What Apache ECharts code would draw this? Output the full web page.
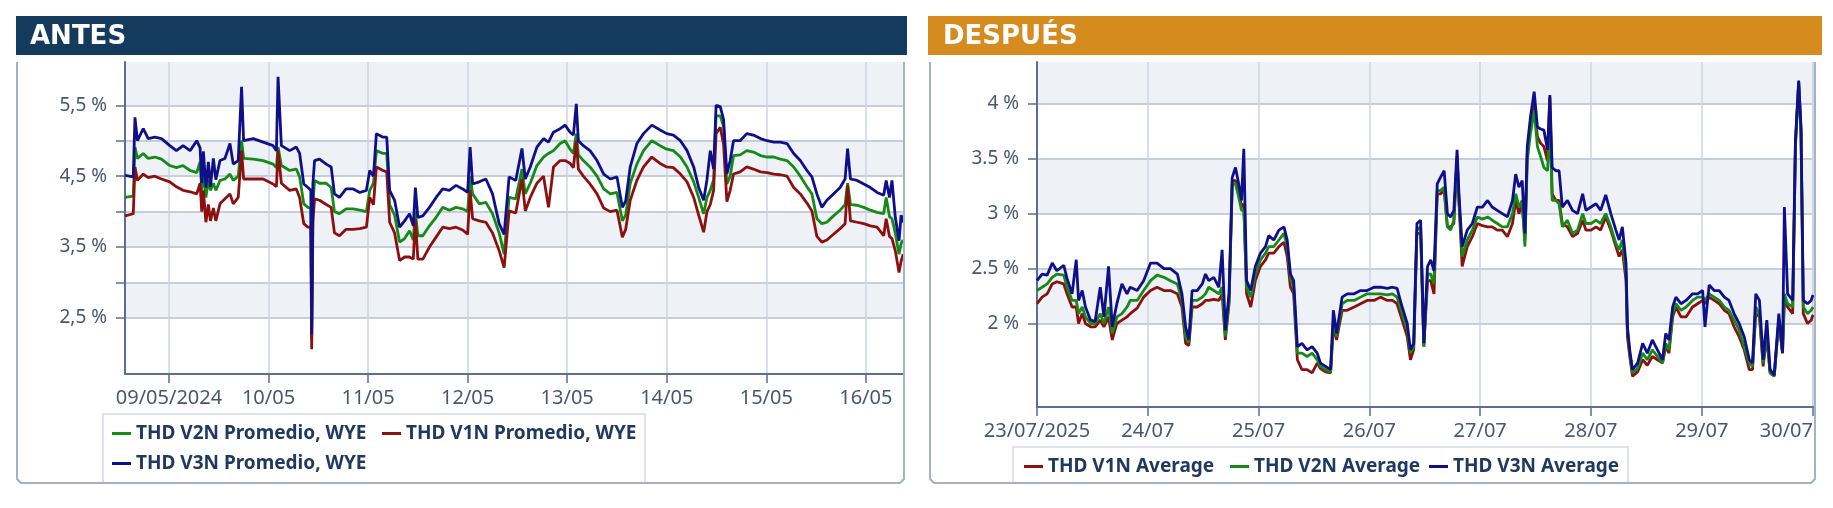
<!DOCTYPE html>
<html>
<head>
<meta charset="utf-8">
<script src="https://cdn.jsdelivr.net/npm/echarts@6/dist/echarts.min.js"></script>
<style>
html, body { margin: 0; padding: 0; background: #fff; }
#chart { width: 1833px; height: 508px; }
</style>
</head>
<body>
<div id="chart"></div>
<script>
// ANTES: horas desde 09/05/2024 00:00
var antesHours = [
  -10.6, -8.6, -8.2, -7.6, -6.2, -5.0, -3.4, -1.8, 0.2, 1.8,
  3.4, 5.1, 6.7, 7.5, 7.9, 8.3, 8.9, 9.5, 10.0, 10.7,
  11.3, 12.3, 13.5, 14.7, 15.5, 16.7, 17.5, 18.0, 20.3, 22.7,
  25.1, 25.9, 26.3, 27.1, 29.1, 30.7, 31.5, 32.5, 33.5, 34.2,
  34.4, 34.7, 35.1, 36.3, 37.9, 39.1, 39.9, 41.1, 42.7, 44.4,
  46.0, 47.6, 48.4, 49.3, 50.0, 51.6, 52.5, 53.2, 54.4, 55.6,
  56.8, 58.0, 58.9, 59.4, 60.0, 61.2, 62.8, 64.4, 66.0, 67.6,
  69.2, 70.8, 72.0, 72.6, 73.2, 74.8, 76.4, 78.0, 79.6, 80.8,
  82.0, 83.6, 85.1, 85.9, 87.1, 88.7, 90.3, 91.5, 92.7, 94.3,
  95.5, 96.7, 97.5, 98.2, 98.7, 99.9, 101.5, 103.2, 104.8, 106.4,
  108.0, 109.3, 110.1, 111.2, 112.8, 114.4, 116.4, 118.4, 120.0, 121.6,
  123.3, 124.9, 126.5, 127.7, 128.9, 129.7, 130.5, 131.3, 131.9, 132.9,
  133.7, 134.5, 135.3, 136.1, 137.7, 139.3, 140.9, 142.6, 144.2, 145.8,
  147.4, 149.0, 150.6, 152.2, 153.8, 155.0, 156.2, 157.4, 158.6, 160.2,
  161.8, 163.0, 163.6, 164.3, 165.9, 167.5, 169.1, 170.7, 172.3, 172.9,
  173.7, 174.3, 175.1, 176.0, 176.5, 177.0
];
var antesV3N = [
  4.51, 4.49, 5.33, 5.00, 5.17, 5.03, 5.05, 5.03, 4.93, 4.86,
  4.93, 4.86, 5.00, 4.90, 4.40, 4.85, 4.34, 4.70, 4.35, 4.75,
  4.45, 4.72, 4.75, 4.96, 4.67, 4.72, 5.76, 5.00, 5.03, 4.98,
  4.93, 4.86, 5.90, 4.93, 4.86, 4.91, 4.82, 4.39, 4.34, 4.30,
  2.27, 4.40, 4.72, 4.74, 4.67, 4.63, 4.25, 4.20, 4.32, 4.32,
  4.27, 4.30, 4.58, 4.50, 5.10, 5.05, 5.05, 4.30, 4.16, 3.78,
  3.87, 3.97, 3.80, 4.34, 3.92, 3.94, 4.06, 4.20, 4.32, 4.30,
  4.37, 4.32, 4.27, 4.91, 4.39, 4.42, 4.46, 4.25, 3.83, 3.68,
  4.49, 4.44, 4.89, 4.46, 4.63, 4.91, 5.03, 4.98, 5.12, 5.17,
  5.22, 5.12, 5.08, 5.52, 5.00, 4.93, 4.86, 4.72, 4.53, 4.46,
  4.49, 4.06, 4.15, 4.63, 4.96, 5.10, 5.22, 5.15, 5.10, 5.08,
  5.00, 4.86, 4.63, 4.34, 4.16, 4.45, 4.86, 4.60, 5.50, 5.48,
  5.30, 4.53, 4.72, 5.00, 5.00, 5.10, 5.08, 5.03, 5.00, 4.98,
  4.98, 4.96, 4.82, 4.72, 4.58, 4.49, 4.25, 4.06, 4.16, 4.25,
  4.34, 4.46, 4.89, 4.46, 4.44, 4.39, 4.34, 4.27, 4.23, 4.44,
  4.20, 4.44, 3.92, 3.59, 3.95, 3.85
];
var antesV2N = [
  4.20, 4.22, 4.91, 4.75, 4.82, 4.75, 4.77, 4.74, 4.65, 4.62,
  4.65, 4.58, 4.55, 4.70, 4.30, 4.60, 4.20, 4.45, 4.30, 4.40,
  4.30, 4.44, 4.46, 4.53, 4.44, 4.50, 5.00, 4.75, 4.74, 4.72,
  4.67, 4.62, 4.91, 4.65, 4.58, 4.60, 4.49, 4.11, 4.06, 4.05,
  2.20, 4.10, 4.44, 4.40, 4.40, 4.34, 4.00, 3.97, 4.04, 4.04,
  4.02, 4.00, 4.30, 4.40, 4.86, 4.82, 4.82, 4.10, 3.95, 3.57,
  3.62, 3.73, 3.60, 4.00, 3.66, 3.66, 3.80, 3.92, 4.06, 4.02,
  4.06, 4.04, 4.00, 4.50, 4.25, 4.11, 4.13, 3.97, 3.70, 3.40,
  4.20, 4.18, 4.60, 4.25, 4.40, 4.65, 4.77, 4.82, 4.86, 4.96,
  5.00, 4.88, 4.82, 5.10, 4.80, 4.72, 4.63, 4.50, 4.32, 4.25,
  4.27, 3.87, 3.95, 4.40, 4.67, 4.86, 5.00, 4.93, 4.88, 4.86,
  4.77, 4.63, 4.42, 4.20, 3.97, 4.20, 4.30, 4.45, 5.35, 5.35,
  5.20, 4.39, 4.50, 4.79, 4.80, 4.86, 4.84, 4.79, 4.77, 4.77,
  4.74, 4.72, 4.63, 4.50, 4.35, 4.25, 3.90, 3.83, 3.85, 3.94,
  4.02, 4.10, 4.40, 4.10, 4.09, 4.06, 4.02, 3.99, 3.97, 4.20,
  3.93, 3.90, 3.70, 3.40, 3.55, 3.60
];
var antesV1N = [
  3.94, 3.97, 4.63, 4.44, 4.53, 4.48, 4.50, 4.46, 4.42, 4.35,
  4.30, 4.28, 4.25, 4.40, 4.00, 4.30, 3.85, 4.10, 3.87, 4.05,
  3.87, 4.11, 4.18, 4.25, 4.11, 4.20, 4.86, 4.46, 4.46, 4.46,
  4.39, 4.35, 4.86, 4.40, 4.30, 4.32, 4.20, 3.83, 3.78, 3.78,
  2.06, 3.85, 4.18, 4.16, 4.10, 4.06, 3.70, 3.66, 3.75, 3.75,
  3.76, 3.78, 4.20, 4.10, 4.63, 4.58, 4.56, 3.85, 3.70, 3.31,
  3.36, 3.36, 3.33, 3.90, 3.33, 3.33, 3.50, 3.64, 3.78, 3.76,
  3.78, 3.74, 3.68, 4.30, 3.90, 3.87, 3.85, 3.70, 3.45, 3.21,
  4.01, 3.98, 4.46, 4.01, 4.20, 4.40, 4.50, 4.06, 4.63, 4.72,
  4.72, 4.68, 4.62, 5.00, 4.60, 4.50, 4.39, 4.25, 4.05, 4.00,
  4.02, 3.64, 3.75, 4.16, 4.44, 4.63, 4.77, 4.68, 4.63, 4.62,
  4.53, 4.42, 4.20, 3.95, 3.71, 4.00, 4.10, 4.30, 5.10, 5.19,
  4.95, 4.14, 4.30, 4.53, 4.56, 4.63, 4.60, 4.56, 4.55, 4.53,
  4.52, 4.50, 4.34, 4.25, 4.12, 4.01, 3.65, 3.57, 3.60, 3.68,
  3.76, 3.83, 4.37, 3.87, 3.85, 3.83, 3.80, 3.78, 3.66, 3.90,
  3.65, 3.62, 3.45, 3.14, 3.30, 3.40
];
var antesDayLabels = ['09/05/2024', '10/05', '11/05', '12/05', '13/05', '14/05', '15/05', '16/05'];
var antesYTicks = [2.5, 3, 3.5, 4, 4.5, 5, 5.5];
var antesYLabels = [2.5, 3.5, 4.5, 5.5];
var antesBands = [[2.5, 3], [3.5, 4], [4.5, 5], [5.5, 6.11]];

// DESPUES: horas desde 23/07/2025 00:00
var despuesHours = [
  0, 1.1, 2.2, 3.3, 4.3, 5.8, 6.5, 7.6, 8.5, 9.0,
  9.8, 10.5, 11.6, 12.6, 13.7, 14.5, 15.5, 16.3, 17.3, 18.4,
  19.5, 20.2, 21.7, 23.1, 24.6, 26.0, 27.5, 28.9, 30.4, 31.4,
  32.2, 32.9, 33.6, 34.7, 35.8, 36.5, 37.2, 38.3, 39.4, 40.1,
  40.8, 41.6, 42.3, 43.0, 43.7, 44.3, 44.8, 45.4, 46.3, 47.3,
  48.4, 49.5, 50.2, 51.3, 52.4, 53.5, 54.2, 54.9, 55.6, 56.4,
  57.4, 58.5, 59.6, 60.7, 61.4, 62.5, 63.6, 64.2, 64.9, 66.1,
  67.2, 68.7, 70.1, 71.5, 73.0, 74.4, 75.9, 77.0, 78.0, 79.1,
  80.2, 80.9, 81.6, 82.3, 83.1, 83.8, 84.6, 85.3, 86.0, 86.7,
  87.4, 88.2, 88.9, 89.6, 90.3, 91.0, 91.4, 92.1, 93.2, 94.3,
  95.4, 96.5, 97.6, 98.6, 99.7, 100.8, 101.9, 103.0, 103.7, 104.4,
  105.1, 105.7, 106.2, 106.9, 107.7, 108.4, 109.1, 109.8, 110.6, 111.1,
  111.6, 112.4, 113.1, 113.8, 114.9, 116.0, 117.1, 118.2, 118.9, 120.0,
  121.1, 122.1, 123.2, 124.3, 125.4, 126.1, 126.8, 127.6, 127.9, 128.4,
  129.0, 130.1, 131.2, 132.2, 133.3, 134.4, 135.5, 136.2, 136.9, 137.7,
  138.4, 139.5, 140.6, 142.0, 143.1, 144.2, 144.7, 145.6, 146.7, 147.8,
  148.9, 149.9, 151.0, 152.1, 153.2, 154.3, 155.0, 155.7, 156.5, 157.3,
  158.1, 158.8, 159.7, 160.7, 161.5, 161.9, 162.6, 163.7, 164.3, 165.0,
  165.5, 166.0, 166.9, 167.7, 168.1
];
var despuesV3N = [
  2.39, 2.45, 2.44, 2.55, 2.48, 2.53, 2.41, 2.27, 2.58, 2.21,
  2.30, 2.15, 2.03, 2.02, 2.33, 2.06, 2.52, 1.97, 2.18, 2.36,
  2.27, 2.33, 2.30, 2.39, 2.55, 2.55, 2.50, 2.50, 2.45, 2.27,
  1.97, 1.85, 2.30, 2.30, 2.36, 2.45, 2.39, 2.42, 2.33, 2.67,
  1.94, 2.27, 3.33, 3.42, 3.27, 3.12, 3.59, 2.39, 2.30, 2.52,
  2.64, 2.70, 2.80, 2.76, 2.85, 2.88, 2.76, 2.45, 2.39, 1.79,
  1.82, 1.76, 1.79, 1.73, 1.64, 1.61, 1.58, 2.12, 1.91, 2.24,
  2.27, 2.27, 2.30, 2.30, 2.33, 2.33, 2.32, 2.33, 2.32, 2.15,
  2.00, 1.76, 1.82, 2.91, 2.94, 1.82, 2.52, 2.58, 2.48, 3.27,
  3.33, 3.39, 3.00, 2.97, 3.03, 3.58, 3.18, 2.70, 2.85, 2.91,
  3.06, 3.06, 3.12, 3.06, 3.03, 3.00, 2.97, 3.12, 3.36, 3.24,
  3.30, 2.82, 3.61, 3.88, 4.11, 3.79, 3.77, 3.76, 3.58, 4.08,
  3.42, 3.39, 3.39, 3.06, 3.12, 3.03, 3.00, 3.18, 3.03, 3.06,
  3.09, 3.03, 3.17, 3.00, 2.85, 2.76, 2.88, 2.55, 1.97, 1.76,
  1.58, 1.64, 1.82, 1.73, 1.85, 1.76, 1.67, 1.91, 1.85, 2.15,
  2.24, 2.18, 2.21, 2.27, 2.27, 2.30, 1.97, 2.35, 2.30, 2.30,
  2.24, 2.21, 2.09, 2.00, 1.88, 1.67, 1.64, 2.27, 2.21, 1.67,
  2.03, 1.58, 1.53, 2.09, 1.73, 3.06, 2.27, 2.21, 3.67, 4.21,
  3.79, 2.21, 2.18, 2.21, 2.26
];
var despuesV2N = [
  2.30, 2.33, 2.36, 2.42, 2.45, 2.44, 2.33, 2.21, 2.21, 2.09,
  2.15, 2.06, 2.00, 2.00, 2.09, 2.00, 2.15, 1.91, 2.06, 2.09,
  2.15, 2.21, 2.21, 2.30, 2.39, 2.44, 2.42, 2.39, 2.36, 2.21,
  1.88, 1.83, 2.21, 2.21, 2.24, 2.27, 2.33, 2.30, 2.27, 2.33,
  1.88, 2.21, 3.27, 3.27, 3.15, 3.03, 3.03, 2.33, 2.24, 2.45,
  2.58, 2.64, 2.70, 2.70, 2.76, 2.82, 2.70, 2.42, 2.33, 1.73,
  1.73, 1.70, 1.73, 1.67, 1.61, 1.58, 1.56, 2.03, 1.88, 2.18,
  2.21, 2.21, 2.24, 2.27, 2.27, 2.27, 2.26, 2.27, 2.24, 2.09,
  1.94, 1.73, 1.79, 2.85, 2.88, 1.79, 2.45, 2.45, 2.36, 3.21,
  3.21, 3.24, 2.88, 2.85, 2.94, 3.52, 3.12, 2.61, 2.76, 2.85,
  2.97, 2.95, 2.97, 2.94, 2.91, 2.88, 2.88, 3.00, 3.18, 3.06,
  3.12, 2.70, 3.48, 3.73, 3.94, 3.61, 3.52, 3.42, 3.39, 3.85,
  3.12, 3.12, 3.09, 2.88, 2.94, 2.82, 2.85, 3.00, 2.91, 2.91,
  2.94, 2.91, 3.00, 2.88, 2.73, 2.67, 2.76, 2.45, 1.94, 1.73,
  1.55, 1.59, 1.73, 1.67, 1.76, 1.70, 1.64, 1.82, 1.76, 2.09,
  2.18, 2.12, 2.15, 2.21, 2.24, 2.24, 2.21, 2.27, 2.24, 2.21,
  2.15, 2.12, 2.03, 1.94, 1.79, 1.64, 1.61, 2.15, 2.09, 1.64,
  1.91, 1.55, 1.52, 2.03, 1.73, 2.27, 2.18, 2.15, 3.61, 4.18,
  3.73, 2.15, 2.09, 2.12, 2.15
];
var despuesV1N = [
  2.18, 2.24, 2.27, 2.36, 2.38, 2.36, 2.27, 2.15, 2.15, 2.00,
  2.09, 2.00, 1.97, 1.97, 2.03, 1.97, 2.06, 1.85, 2.00, 2.03,
  2.06, 2.09, 2.14, 2.24, 2.30, 2.33, 2.30, 2.30, 2.27, 2.15,
  1.82, 1.80, 2.15, 2.15, 2.18, 2.21, 2.21, 2.22, 2.21, 2.27,
  1.85, 2.18, 3.30, 3.30, 3.21, 3.06, 3.09, 2.27, 2.15, 2.39,
  2.52, 2.58, 2.64, 2.64, 2.70, 2.74, 2.61, 2.33, 2.27, 1.67,
  1.58, 1.58, 1.55, 1.64, 1.59, 1.56, 1.55, 1.97, 1.85, 2.12,
  2.12, 2.15, 2.18, 2.21, 2.21, 2.24, 2.21, 2.21, 2.18, 2.03,
  1.88, 1.67, 1.76, 2.82, 2.82, 1.79, 2.39, 2.39, 2.27, 3.18,
  3.18, 3.21, 2.88, 2.88, 2.91, 3.52, 3.12, 2.52, 2.70, 2.79,
  2.91, 2.89, 2.88, 2.88, 2.85, 2.85, 2.79, 2.91, 3.12, 3.00,
  3.09, 2.76, 3.55, 3.79, 4.00, 3.70, 3.64, 3.61, 3.48, 4.06,
  3.18, 3.12, 3.12, 2.91, 2.88, 2.79, 2.82, 2.94, 2.85, 2.85,
  2.88, 2.85, 2.97, 2.85, 2.70, 2.61, 2.67, 2.39, 1.88, 1.70,
  1.52, 1.56, 1.67, 1.62, 1.70, 1.67, 1.64, 1.79, 1.73, 2.06,
  2.15, 2.06, 2.06, 2.15, 2.18, 2.21, 2.18, 2.24, 2.21, 2.18,
  2.12, 2.09, 1.97, 1.88, 1.76, 1.58, 1.58, 2.09, 2.06, 1.61,
  1.88, 1.55, 1.52, 2.03, 1.73, 2.21, 2.15, 2.09, 3.64, 4.20,
  3.76, 2.09, 2.00, 2.03, 2.08
];
var despuesDayLabels = ['23/07/2025', '24/07', '25/07', '26/07', '27/07', '28/07', '29/07', '30/07'];
var despuesYTicks = [2, 2.5, 3, 3.5, 4];
var despuesYLabels = [2, 2.5, 3, 3.5, 4];
var despuesBands = [[2, 2.5], [3, 3.5], [4, 4.38]];

var HOUR = 3600000, DAY = 86400000;
var antesBase = new Date(2024, 4, 9).getTime();
var despuesBase = new Date(2025, 6, 23).getTime();

var colV1 = '#8c1010', colV2 = '#168a16', colV3 = '#0f0f8c';
var axisCol = '#5b6e93';
var labelCol = '#4a5670';
var font = 'Noto Sans';

function pairs(base, hours, vals) {
  var out = [];
  for (var i = 0; i < hours.length; i++) out.push([base + hours[i] * HOUR, vals[i]]);
  return out;
}

function dayFormatter(base, labels) {
  return function (val) {
    var d = (val - base) / DAY;
    var k = Math.round(d);
    if (Math.abs(d - k) > 0.01) return '';
    return labels[k] || '';
  };
}

function xAxisCfg(idx, base, hMin, hMax, labels, alignMax) {
  return {
    gridIndex: idx, type: 'time', z: 6,
    min: base + hMin * HOUR, max: base + hMax * HOUR,
    minInterval: DAY, maxInterval: DAY,
    axisLine: { show: true, lineStyle: { color: axisCol, width: 2 } },
    axisTick: { show: true, length: 9, lineStyle: { color: axisCol, width: 1.5 } },
    axisLabel: {
      formatter: dayFormatter(base, labels), color: labelCol, fontSize: 20,
      fontFamily: font, margin: 14, hideOverlap: false, showMaxLabel: true,
      alignMaxLabel: alignMax ? 'right' : null
    },
    splitLine: { show: true, lineStyle: { color: '#cdd4e2', width: 1.5 } }
  };
}

function yAxisCfg(idx, min, max, ticks, labels, sep) {
  return {
    gridIndex: idx, type: 'value', z: 6, min: min, max: max,
    axisLine: { show: true, lineStyle: { color: axisCol, width: 2 } },
    axisTick: { show: true, length: 9, customValues: ticks, lineStyle: { color: axisCol, width: 1.5 } },
    axisLabel: {
      customValues: labels, color: labelCol, fontSize: 19, fontFamily: font, margin: 18,
      formatter: function (v) { return String(v).replace('.', sep) + ' %'; }
    },
    splitLine: { show: false },
    splitArea: { show: false }
  };
}

function backdrop(idx, bands, lines) {
  return {
    type: 'line', name: 'fondo' + idx, xAxisIndex: idx, yAxisIndex: idx,
    data: [], z: 1, silent: true,
    markArea: {
      silent: true, itemStyle: { color: '#eef1f6' },
      data: bands.map(function (b) { return [{ yAxis: b[0] }, { yAxis: b[1] }]; })
    },
    markLine: {
      silent: true, symbol: 'none', label: { show: false },
      lineStyle: { color: '#c7cdda', width: 2, type: 'solid' },
      data: lines.map(function (v) { return { yAxis: v }; })
    }
  };
}

function line(idx, name, color, data) {
  return {
    type: 'line', name: name, xAxisIndex: idx, yAxisIndex: idx,
    data: data, showSymbol: false, symbol: 'none', z: 10,
    color: color, lineStyle: { color: color, width: 2.8 }
  };
}

function legendItem(name, left, top) {
  return {
    data: [name], left: left, top: top, orient: 'horizontal', padding: 0,
    itemWidth: 19, itemHeight: 3, icon: 'rect', selectedMode: false,
    textStyle: { fontFamily: font, fontWeight: 'bold', fontSize: 19, color: '#1f3962' }
  };
}

var chart = echarts.init(document.getElementById('chart'));

var option = {
  animation: false,
  backgroundColor: '#fff',
  grid: [
    { left: 125, top: 62, width: 779, height: 312 },
    { left: 1037, top: 62, width: 776, height: 345 }
  ],
  xAxis: [
    xAxisCfg(0, antesBase, -10.6, 177.2, antesDayLabels, false),
    xAxisCfg(1, despuesBase, 0, 168.1, despuesDayLabels, true)
  ],
  yAxis: [
    yAxisCfg(0, 1.71, 6.11, antesYTicks, antesYLabels, ','),
    yAxisCfg(1, 1.24, 4.38, despuesYTicks, despuesYLabels, '.')
  ],
  legend: [
    legendItem('THD V2N Promedio, WYE', 112, 424),
    legendItem('THD V1N Promedio, WYE', 382, 424),
    legendItem('THD V3N Promedio, WYE', 112, 454),
    legendItem('THD V1N Average', 1024, 457),
    legendItem('THD V2N Average', 1230, 457),
    legendItem('THD V3N Average', 1429, 457)
  ],
  series: [
    backdrop(0, antesBands, antesYTicks),
    backdrop(1, despuesBands, despuesYTicks),
    line(0, 'THD V2N Promedio, WYE', colV2, pairs(antesBase, antesHours, antesV2N)),
    line(0, 'THD V1N Promedio, WYE', colV1, pairs(antesBase, antesHours, antesV1N)),
    line(0, 'THD V3N Promedio, WYE', colV3, pairs(antesBase, antesHours, antesV3N)),
    line(1, 'THD V1N Average', colV1, pairs(despuesBase, despuesHours, despuesV1N)),
    line(1, 'THD V2N Average', colV2, pairs(despuesBase, despuesHours, despuesV2N)),
    line(1, 'THD V3N Average', colV3, pairs(despuesBase, despuesHours, despuesV3N))
  ],
  graphic: [
    { type: 'rect', z: 1, silent: true, shape: { x: 103, y: 414, width: 542, height: 69 },
      style: { stroke: '#d3d9e5', lineWidth: 1.5, fill: '#fff' } },
    { type: 'rect', z: 1, silent: true, shape: { x: 1013, y: 447, width: 615, height: 36 },
      style: { stroke: '#d3d9e5', lineWidth: 1.5, fill: '#fff' } },
    { type: 'polyline', z: 20, silent: true,
      shape: { points: [[17, 62], [17, 479], [21, 483], [900, 483], [904, 479], [904, 62]] },
      style: { stroke: '#a4b1c7', lineWidth: 2, fill: null } },
    { type: 'polyline', z: 20, silent: true,
      shape: { points: [[930, 62], [930, 479], [934, 483], [1811, 483], [1815, 479], [1815, 62]] },
      style: { stroke: '#a4b1c7', lineWidth: 2, fill: null } },
    { type: 'rect', z: 20, silent: true, shape: { x: 16, y: 16, width: 891, height: 39 }, style: { fill: '#143a5e' } },
    { type: 'text', z: 21, silent: true, x: 30, y: 37,
      style: { text: 'ANTES', fill: '#fff', font: 'bold 26px "DejaVu Sans"', verticalAlign: 'middle' } },
    { type: 'rect', z: 20, silent: true, shape: { x: 928, y: 16, width: 894, height: 39 }, style: { fill: '#d68b1f' } },
    { type: 'text', z: 21, silent: true, x: 943, y: 37,
      style: { text: 'DESPUÉS', fill: '#fff', font: 'bold 26px "DejaVu Sans"', verticalAlign: 'middle' } }
  ]
};

chart.setOption(option);
</script>
</body>
</html>
